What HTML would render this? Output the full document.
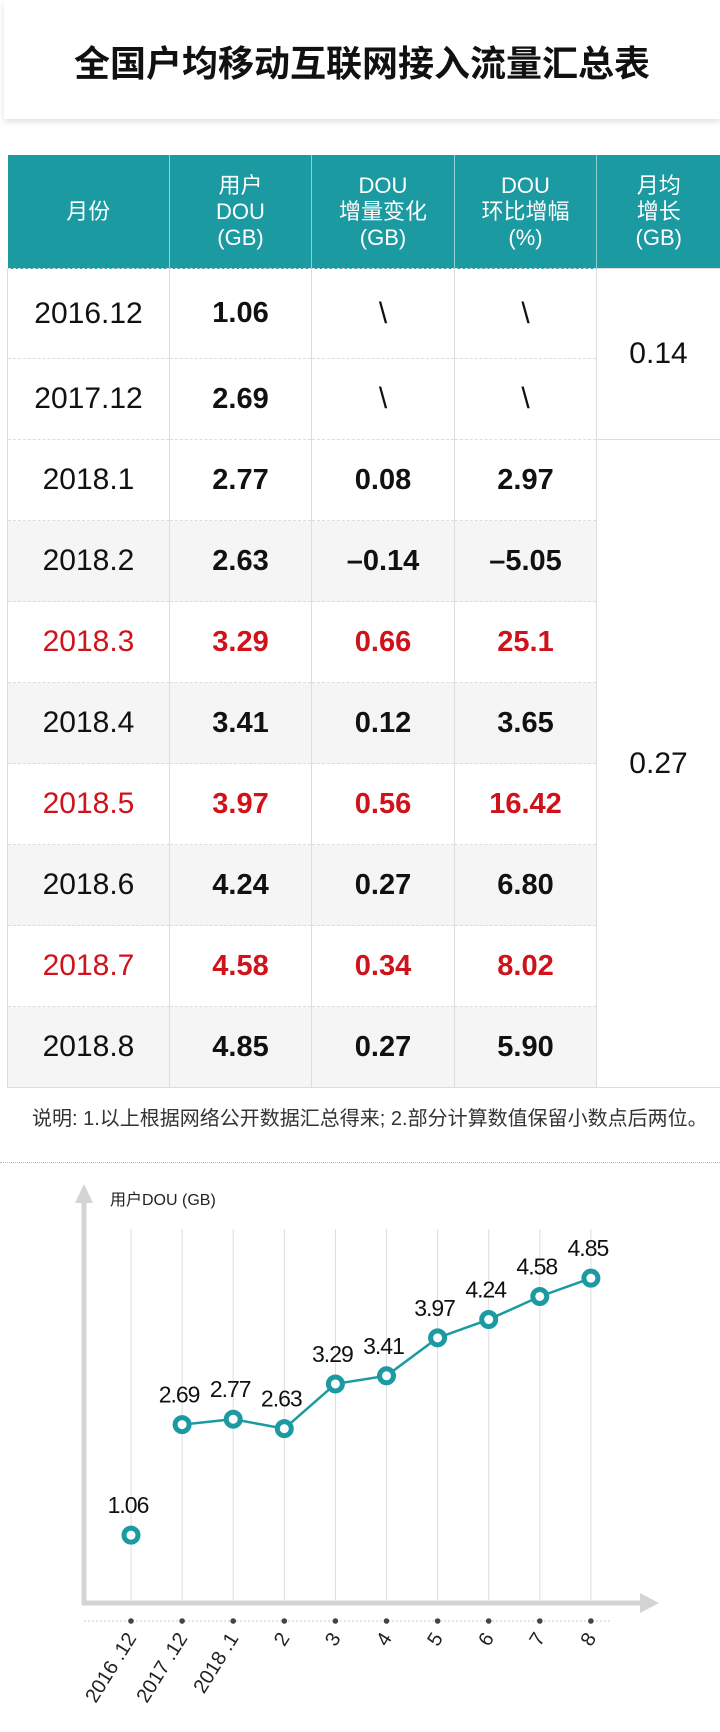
<!DOCTYPE html>
<html><head><meta charset="utf-8"><style>
body{margin:0;width:720px;height:1732px;background:#fff;font-family:"Liberation Sans","Noto Sans CJK SC",sans-serif;position:relative;overflow:hidden}
.title{position:absolute;left:4px;top:0;width:716px;height:119px;background:#fff;box-shadow:0 3px 6px rgba(0,0,0,0.12);text-align:center;line-height:128px;font-size:36px;font-weight:bold;color:#111}
table{position:absolute;left:7px;top:155px;width:713px;border-collapse:collapse;table-layout:fixed}
th{background:#1b9aa1;color:#fff;font-weight:normal;font-size:22px;line-height:26px;height:113px;border-left:1px solid #8fd0d3;padding:0}
th:first-child{border-left:none}
td{height:80px;border-left:1px solid #ddd;border-top:1px dashed #ddd;text-align:center;font-size:30px;color:#111;padding:0}
td:first-child{border-left:1px solid #ddd}
td.v{font-weight:bold;font-size:29px}
td.m{border-right:1px solid #ddd;border-top:1px solid #ddd}
tr.g td{background:#f5f5f5}
tr.r td{color:#d0121b}
tr.b td{border-bottom:1px solid #ddd}
.note{position:absolute;left:32px;top:1102px;font-size:20px;color:#333;white-space:nowrap}
.sep{position:absolute;left:0;top:1162px;width:720px;border-top:1px dotted #bbb}
</style></head><body>
<div class="title">全国户均移动互联网接入流量汇总表</div>
<table>
<colgroup><col style="width:162px"><col style="width:142px"><col style="width:143px"><col style="width:142px"><col style="width:124px"></colgroup>
<tr><th>月份</th><th>用户<br>DOU<br>(GB)</th><th>DOU<br>增量变化<br>(GB)</th><th>DOU<br>环比增幅<br>(%)</th><th>月均<br>增长<br>(GB)</th></tr>
<tr><td style="height:89px">2016.12</td><td class="v">1.06</td><td>\</td><td>\</td><td class="m" rowspan="2" style="color:#111">0.14</td></tr>
<tr><td style="height:76px">2017.12</td><td class="v">2.69</td><td>\</td><td>\</td></tr>
<tr><td>2018.1</td><td class="v">2.77</td><td class="v">0.08</td><td class="v">2.97</td><td class="m" rowspan="8" style="background:#fff;color:#111;border-bottom:1px solid #ddd">0.27</td></tr>
<tr class="g"><td>2018.2</td><td class="v">2.63</td><td class="v">–0.14</td><td class="v">–5.05</td></tr>
<tr class="r"><td>2018.3</td><td class="v">3.29</td><td class="v">0.66</td><td class="v">25.1</td></tr>
<tr class="g"><td>2018.4</td><td class="v">3.41</td><td class="v">0.12</td><td class="v">3.65</td></tr>
<tr class="r"><td>2018.5</td><td class="v">3.97</td><td class="v">0.56</td><td class="v">16.42</td></tr>
<tr class="g"><td>2018.6</td><td class="v">4.24</td><td class="v">0.27</td><td class="v">6.80</td></tr>
<tr class="r"><td>2018.7</td><td class="v">4.58</td><td class="v">0.34</td><td class="v">8.02</td></tr>
<tr class="g b"><td>2018.8</td><td class="v">4.85</td><td class="v">0.27</td><td class="v">5.90</td></tr>
</table>
<div class="note">说明: 1.以上根据网络公开数据汇总得来; 2.部分计算数值保留小数点后两位。</div>
<div class="sep"></div>
<svg id="chart" width="720" height="1732" style="position:absolute;left:0;top:0"></svg>
<script>
const categories=["2016 .12","2017 .12","2018 .1","2","3","4","5","6","7","8"];
const values=[1.06,2.69,2.77,2.63,3.29,3.41,3.97,4.24,4.58,4.85];
const labels=["1.06","2.69","2.77","2.63","3.29","3.41","3.97","4.24","4.58","4.85"];
const NS="http://www.w3.org/2000/svg";
const svg=document.getElementById('chart');
const x=i=>131+i*51.1;
const y=v=>1607-v*67.8;
function mk(t,a,p){const e=document.createElementNS(NS,t);for(const k in a)e.setAttribute(k,a[k]);(p||svg).appendChild(e);return e;}
let g;
categories.forEach((c,i)=>{
 g=mk('line',{x1:x(i),x2:x(i),y1:1229,y2:1600,stroke:'#ddd','stroke-width':1});
 
 
});
g=mk('line',{x1:84,x2:84,y1:1198,y2:1605,stroke:'#d4d4d4','stroke-width':5});


g=mk('polygon',{points:'75,1203 93,1203 84,1184',fill:'#d4d4d4'});


g=mk('line',{x1:82,x2:645,y1:1603,y2:1603,stroke:'#d4d4d4','stroke-width':5});


g=mk('polygon',{points:'640,1593 640,1613 659,1603',fill:'#d4d4d4'});


g=mk('text',{x:110,y:1205,'font-size':16,fill:'#222'});g.textContent='用户DOU (GB)';


g=mk('line',{x1:84,x2:612,y1:1621,y2:1621,stroke:'#ccc','stroke-width':1,'stroke-dasharray':'2,2'});


let d='';for(let i=1;i<values.length;i++)d+=(i==1?'M':'L')+x(i)+','+y(values[i]);
g=mk('path',{d:d,fill:'none',stroke:'#1b9aa1','stroke-width':2.5});


values.forEach((v,i)=>{
 g=mk('circle',{cx:x(i),cy:y(v),r:7,fill:'#fff',stroke:'#1b9aa1','stroke-width':5});
 
 
 g=mk('text',{x:x(i)-3,y:y(v)-22,'font-size':23,'text-anchor':'middle',fill:'#111','letter-spacing':'-1'});g.textContent=labels[i];
 
 
 g=mk('circle',{cx:x(i),cy:1621,r:2.8,fill:'#444'});
 
 
 g=mk('text',{x:x(i)+6,y:1638,'font-size':20,'text-anchor':'end',fill:'#222',transform:'rotate(-58 '+(x(i)+6)+' 1638)'});g.textContent=categories[i];
 
 
});
</script>
</body></html>
